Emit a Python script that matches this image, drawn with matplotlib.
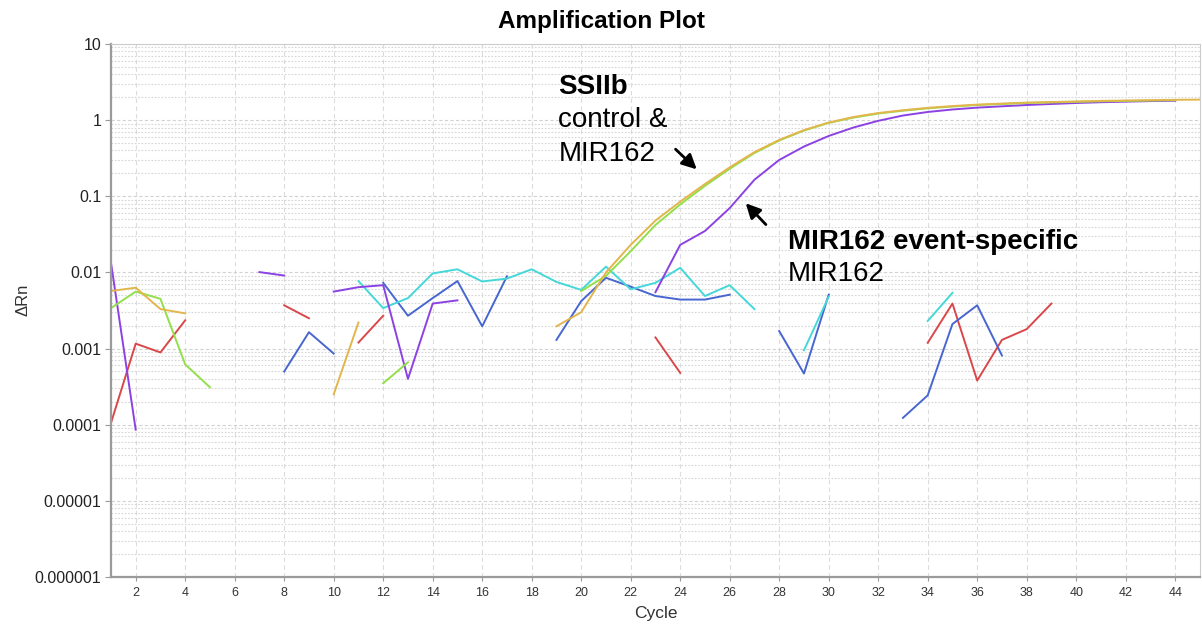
import numpy as np
import matplotlib
matplotlib.use("Agg")
import matplotlib.pyplot as plt
from matplotlib.ticker import FixedLocator, LogLocator, NullFormatter

plt.rcParams['font.family'] = ['Liberation Sans', 'DejaVu Sans']

# ------------------------------------------------------------
# Amplification data (delta Rn per cycle, nan = not plotted)
# ------------------------------------------------------------

nan = np.nan
cycles = np.arange(1, 46)

red = [1.05e-4, 0.00116, 0.00089, 0.00235, nan, nan, nan, 0.0037, 0.0025, nan,
       0.0012, 0.0027, nan, nan, nan, nan, nan, nan, nan, nan,
       nan, nan, 0.0014, 0.00048, nan, nan, nan, nan, nan, nan,
       nan, nan, nan, 0.00119, 0.0039, 0.00038, 0.0013, 0.0018, 0.0039, nan,
       nan, nan, nan, nan, nan]

blue = [nan, nan, nan, nan, nan, nan, nan, 0.0005, 0.00164, 0.00086,
        nan, 0.0073, 0.0027, 0.0046, 0.0077, 0.00196, 0.0089, nan, 0.0013, 0.0042,
        0.0085, 0.0065, 0.0049, 0.0044, 0.0044, 0.0051, nan, 0.0017, 0.00047, 0.0051,
        nan, nan, 0.000123, 0.000243, 0.0021, 0.0037, 0.00081, nan, nan, nan,
        nan, nan, nan, nan, nan]

cyan = [nan, nan, nan, nan, nan, nan, nan, nan, nan, nan,
        0.0077, 0.0034, 0.0046, 0.0097, 0.011, 0.0076, 0.0083, 0.011, 0.0075, 0.0059,
        0.0119, 0.006, 0.0073, 0.0115, 0.0049, 0.0068, 0.0033, nan, 0.00095, 0.0048,
        nan, nan, nan, 0.0023, 0.0054, nan, nan, nan, nan, nan,
        nan, nan, nan, nan, nan]

purple = [0.0135, 8.6e-5, nan, nan, nan, nan, 0.0101, 0.0091, nan, 0.0056,
          0.0064, 0.0068, 0.0004, 0.0039, 0.0043, nan, nan, nan, nan, nan,
          nan, nan, 0.0055, 0.023, 0.035, 0.070, 0.165, 0.30, 0.45, 0.62,
          0.80, 0.98, 1.15, 1.28, 1.38, 1.46, 1.52, 1.58, 1.63, 1.68,
          1.72, 1.75, 1.78, 1.80, nan]

green = [0.0034, 0.0056, 0.0045, 0.00062, 0.00031, nan, nan, nan, nan, nan,
         nan, 0.00035, 0.00066, nan, nan, nan, nan, nan, nan, 0.0057,
         0.0090, 0.019, 0.042, 0.078, 0.137, 0.23, 0.37, 0.54, 0.73, 0.92,
         1.08, 1.22, 1.33, 1.43, 1.51, 1.58, 1.63, 1.68, 1.71, 1.74,
         1.77, 1.79, 1.81, 1.83, nan]

yellow = [0.0057, 0.0063, 0.0033, 0.0029, nan, nan, nan, nan, nan, 0.00025,
          0.0022, nan, nan, nan, nan, nan, nan, nan, 0.00196, 0.0030,
          0.0100, 0.023, 0.048, 0.085, 0.145, 0.24, 0.38, 0.55, 0.74, 0.93,
          1.10, 1.24, 1.35, 1.45, 1.53, 1.60, 1.65, 1.70, 1.73, 1.76,
          1.79, 1.81, 1.83, 1.85, 1.86]

series = [
    (red, '#d9474a'),
    (blue, '#4766d0'),
    (cyan, '#45d7d9'),
    (purple, '#8c42e3'),
    (green, '#93df4a'),
    (yellow, '#e2b64c'),
]

y_ticks = [1e-6, 1e-5, 1e-4, 1e-3, 1e-2, 1e-1, 1, 10]
y_tick_labels = ['0.000001', '0.00001', '0.0001', '0.001', '0.01', '0.1', '1', '10']
x_ticks = list(range(2, 45, 2))

# ------------------------------------------------------------
# Figure
# ------------------------------------------------------------

fig = plt.figure(figsize=(12.02, 6.26), dpi=100)
ax = fig.add_axes([0.0923, 0.0783, 0.9060, 0.8514])

for values, color in series:
    ax.plot(cycles, np.array(values, dtype=float), color=color, linewidth=1.4)

ax.set_yscale('log')
ax.set_xlim(1, 45)
ax.set_ylim(1e-6, 10)

ax.yaxis.set_major_locator(FixedLocator(y_ticks))
ax.set_yticklabels(y_tick_labels)
ax.yaxis.set_minor_locator(LogLocator(base=10, subs=np.arange(2, 10)))
ax.yaxis.set_minor_formatter(NullFormatter())
ax.set_xticks(x_ticks)
ax.set_xticklabels([str(t) for t in x_ticks])

ax.tick_params(axis='y', which='major', labelsize=11.5, length=4,
               color='#999999', labelcolor='#222222', pad=3)
ax.tick_params(axis='y', which='minor', length=0)
ax.tick_params(axis='x', labelsize=9, length=3, color='#999999',
               labelcolor='#333333', pad=4)

# grid
ax.grid(True, which='major', axis='x', color='#dcdcdc',
        linestyle=(0, (4, 3)), linewidth=0.8)
ax.grid(True, which='major', axis='y', color='#d2d2d2',
        linestyle=(0, (3, 2)), linewidth=0.8)
ax.grid(True, which='minor', axis='y', color='#d6d6d6',
        linestyle=(0, (1.5, 1.5)), linewidth=0.8)
ax.set_axisbelow(True)

for side in ['left', 'bottom']:
    ax.spines[side].set_color('#9a9a9a')
    ax.spines[side].set_linewidth(1.6)
for side in ['top', 'right']:
    ax.spines[side].set_color('#cccccc')
    ax.spines[side].set_linewidth(0.8)

ax.set_xlabel('Cycle', fontsize=12.5, color='#333333', labelpad=5)
ax.set_ylabel('\u0394Rn', fontsize=12, color='#333333')
ax.yaxis.set_label_coords(-0.074, 0.52)

fig.text(0.5, 0.966, 'Amplification Plot', ha='center', va='center',
         fontsize=17.5, fontweight='bold')

# ------------------------------------------------------------
# Annotations
# ------------------------------------------------------------

note_size = 20

ax.text(19.08, 2.72, 'SSIIb', fontsize=note_size, fontweight='bold', va='center')
ax.text(19.08, 1.0, 'control &', fontsize=note_size, va='center')
ax.text(19.08, 0.357, 'MIR162', fontsize=note_size, va='center')
ax.annotate('', xy=(24.75, 0.213), xytext=(23.73, 0.44),
            arrowprops=dict(arrowstyle='-|>', color='black', lw=2,
                            mutation_scale=22))

ax.text(28.35, 0.0248, 'MIR162 event-specific', fontsize=note_size,
        fontweight='bold', va='center')
ax.text(28.35, 0.0094, 'MIR162', fontsize=note_size, va='center')
ax.annotate('', xy=(26.57, 0.086), xytext=(27.54, 0.040),
            arrowprops=dict(arrowstyle='-|>', color='black', lw=2,
                            mutation_scale=22))

fig.savefig('out.png', dpi=100)
